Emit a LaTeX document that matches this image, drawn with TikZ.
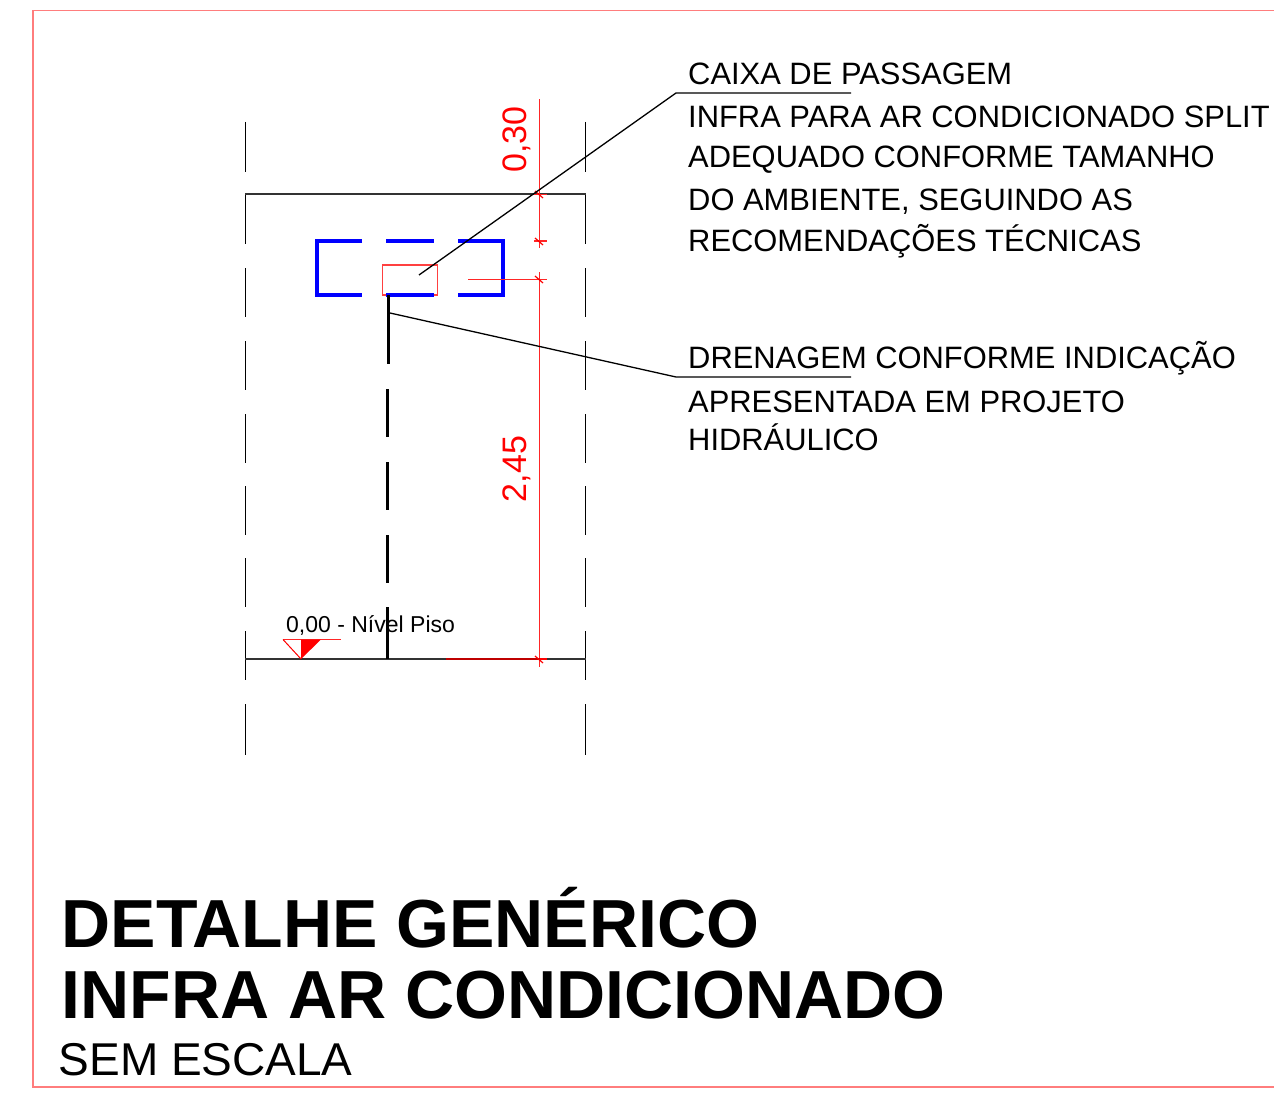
\documentclass[tikz,border=0pt]{standalone}
\usepackage{fontspec}
\setmainfont{Liberation Sans}
\definecolor{frameRed}{RGB}{255,125,125}
\definecolor{dimRed}{RGB}{255,0,0}
\tikzset{
  x=1pt,y=-1pt,
  frameline/.style={draw=frameRed,line width=1.7pt},
  sideline/.style={draw=black,line width=1pt},
  slab/.style={draw=black!80,line width=2pt},
  bluedash/.style={draw=blue,line width=3.7pt},
  drain/.style={draw=black,line width=3pt},
  dimline/.style={draw=dimRed,line width=1.2pt},
  dimbar/.style={fill=dimRed!85},
  leader/.style={draw=black,line width=1.3pt},
  note/.style={anchor=base west,inner sep=0pt,font=\fontsize{30.9}{36}\selectfont},
  dimtxt/.style={anchor=base,inner sep=0pt,rotate=90,text=red,font=\fontsize{34}{40}\selectfont},
  titletxt/.style={anchor=base west,inner sep=0pt,font=\bfseries\fontsize{68}{80}\selectfont},
}
\begin{document}
\begin{tikzpicture}
\useasboundingbox (0,0) rectangle (1274,1094);
\fill[white] (0,0) rectangle (1274,1094);
\draw[frameline] (1274,10.5) -- (33,10.5) -- (33,1087) -- (1274,1087);
\foreach \a/\b in {122/172,194/244,268/317,341/390,414/463,486/535,558/607,631/680,704/755}{
  \draw[sideline] (245.5,\a) -- (245.5,\b);
  \draw[sideline] (585.5,\a) -- (585.5,\b);
}
\draw[slab] (245,194.5) -- (586,194.5);
\draw[slab] (245,659) -- (586,659);
\draw[draw=dimRed!75,line width=1.5pt] (382.5,265) rectangle (437.5,295);
\draw[bluedash] (362,241) -- (317,241) -- (317,295) -- (362,295);
\draw[bluedash] (386,241) -- (434,241);
\draw[bluedash] (386,295) -- (434,295);
\draw[bluedash] (458,241) -- (503,241) -- (503,295) -- (458,295);
\draw[drain] (388,295) -- (388,364);
\draw[drain] (387.5,389) -- (387.5,437);
\draw[drain] (387.5,462) -- (387.5,510);
\draw[drain] (387,535) -- (387,583);
\draw[drain] (387,607) -- (387,659);
\fill[dimbar] (538.6,99) rectangle (540.4,248);
\fill[dimbar] (538.6,272) rectangle (540.4,667);
\fill[dimbar] (468,278.6) rectangle (547,280.4);
\fill[dimbar] (534,193.6) rectangle (547,195.4);
\fill[dimbar] (534,240.1) rectangle (547,241.9);
\draw[draw=red!75!black,line width=1.6pt] (446,659) -- (539.5,659);
\draw[dimline] (539.5,659) -- (547,659);
\draw[dimline] (535,191) -- (543,198);
\draw[dimline] (535,238) -- (543,245);
\draw[dimline] (535,276) -- (543,283);
\draw[dimline] (535,656) -- (543,663);
\node[dimtxt] (d1) at (526.5,139.5) {0,30};
\node[dimtxt] (d2) at (526.5,469) {2,45};
\coordinate (c1) at (419,275);
\coordinate (c2) at (676,93);
\coordinate (c3) at (851,93);
\draw[leader] (c1) -- (c2) -- (c3);
\coordinate (e1) at (390,313);
\coordinate (e2) at (676,377);
\coordinate (e3) at (851,377);
\draw[leader] (e1) -- (e2) -- (e3);
\node[note] (t1) at (688,85) {CAIXA DE PASSAGEM};
\node[note] (t2) at (688,128) {INFRA PARA AR CONDICIONADO SPLIT};
\node[note] (t3) at (688,168) {ADEQUADO CONFORME TAMANHO};
\node[note] (t4) at (688,211) {DO AMBIENTE, SEGUINDO AS};
\node[note] (t5) at (688,251.5) {RECOMENDAÇÕES TÉCNICAS};
\node[note] (t6) at (688,368) {DRENAGEM CONFORME INDICAÇÃO};
\node[note] (t7) at (688,412) {APRESENTADA EM PROJETO};
\node[note] (t8) at (688,450.5) {HIDRÁULICO};
\fill[dimbar] (283,638.8) rectangle (341,640.4);
\draw[draw=red,line width=1pt] (283,639.5) -- (301,659);
\fill[red] (301,639.5) -- (321,639.5) -- (301,659) -- cycle;
\node[anchor=base west,inner sep=0pt,font=\fontsize{23}{28}\selectfont] (lvl) at (286,632.5) {0,00 - Nível Piso};
\node[titletxt] (h1) at (61.5,947) {DETALHE GENÉRICO};
\node[titletxt] (h2) at (61.5,1018) {INFRA AR CONDICIONADO};
\node[anchor=base west,inner sep=0pt,font=\fontsize{46}{50}\selectfont] (h3) at (58.5,1075) {SEM ESCALA};
\end{tikzpicture}
\end{document}
